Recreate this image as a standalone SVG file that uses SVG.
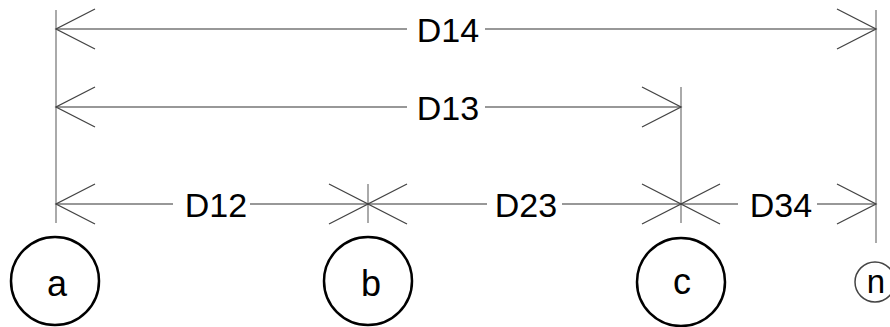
<svg xmlns="http://www.w3.org/2000/svg" width="890" height="327" viewBox="0 0 890 327">
<style>
.ext{stroke:#aaa;stroke-width:2;fill:none}
.dim{stroke:#333;stroke-width:1.2;fill:none;marker-start:url(#arr);marker-end:url(#arr)}
.lbl{font-family:"Liberation Sans",Arial,sans-serif;font-size:34px;fill:#000;text-anchor:middle}
.node{fill:#fff;stroke:#000;stroke-width:2.5}
.nlbl{font-family:"Liberation Sans",Arial,sans-serif;font-size:36px;fill:#000;text-anchor:middle}
</style>
<defs>
<marker id="arr" markerUnits="userSpaceOnUse" markerWidth="50" markerHeight="50" viewBox="-45 -25 50 50" refX="0" refY="0" orient="auto-start-reverse" overflow="visible">
<path d="M-39,-20 L0,0 L-39,20" fill="none" stroke="#444" stroke-width="1.3"/>
</marker>
</defs>
<rect width="890" height="327" fill="#fff"/>
<g id="extension-lines">
<line class="ext" x1="56" y1="10" x2="56" y2="223"/>
<line class="ext" x1="368" y1="184" x2="368" y2="223"/>
<line class="ext" x1="681" y1="87" x2="681" y2="223"/>
<line class="ext" x1="876" y1="10" x2="876" y2="243"/>
</g>
<g id="connectors">
<path class="dim" d="M56,29 H407 M485,29 H876"/>
<path class="dim" d="M56,107 H407 M485,107 H681"/>
<path class="dim" d="M56,204 H173 M250,204 H368"/>
<path class="dim" d="M368,204 H487 M562,204 H681"/>
<path class="dim" d="M681,204 H738 M817,204 H876"/>
<text class="lbl" x="448" y="41.5">D14</text>
<text class="lbl" x="448" y="120">D13</text>
<text class="lbl" x="216" y="216.5">D12</text>
<text class="lbl" x="526" y="216.5">D23</text>
<text class="lbl" x="781" y="216.5">D34</text>
</g>
<g id="node-a">
<circle class="node" cx="55" cy="281" r="44"/>
<text class="nlbl" x="57" y="296">a</text>
</g>
<g id="node-b">
<circle class="node" cx="368" cy="281" r="44"/>
<text class="nlbl" x="371" y="296">b</text>
</g>
<g id="node-c">
<circle class="node" cx="681" cy="282" r="44"/>
<text class="nlbl" x="682" y="294">c</text>
</g>
<g id="node-n">
<circle cx="875" cy="282" r="20" fill="#fff" stroke="#444" stroke-width="1.5"/>
<text class="nlbl" x="876" y="293" style="font-size:33px">n</text>
</g>
</svg>
